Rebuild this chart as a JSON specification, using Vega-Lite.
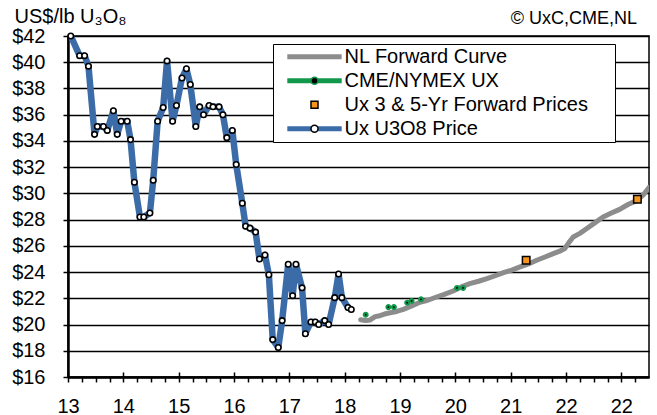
{
  "$schema": "https://vega.github.io/schema/vega-lite/v6.json",
  "width": 581,
  "height": 341,
  "autosize": "none",
  "padding": {"left": 68, "top": 36, "right": 8, "bottom": 38},
  "background": "white",
  "config": {
    "font": "Liberation Sans",
    "view": {"stroke": "black", "strokeWidth": 1.5}
  },
  "title": {"text": "© UxC,CME,NL", "anchor": "end", "frame": "group", "fontSize": 18, "fontWeight": "normal", "color": "black", "baseline": "alphabetic", "offset": 0, "dy": 36, "dx": -12},
  "datasets": {
    "prices": [
      {"series": "Ux U3O8 Price", "year": 2013.05, "price": 42.0},
      {"series": "Ux U3O8 Price", "year": 2013.21, "price": 40.5},
      {"series": "Ux U3O8 Price", "year": 2013.30, "price": 40.5},
      {"series": "Ux U3O8 Price", "year": 2013.37, "price": 39.7},
      {"series": "Ux U3O8 Price", "year": 2013.48, "price": 34.5},
      {"series": "Ux U3O8 Price", "year": 2013.53, "price": 35.1},
      {"series": "Ux U3O8 Price", "year": 2013.64, "price": 35.1},
      {"series": "Ux U3O8 Price", "year": 2013.71, "price": 34.8},
      {"series": "Ux U3O8 Price", "year": 2013.82, "price": 36.3},
      {"series": "Ux U3O8 Price", "year": 2013.89, "price": 34.5},
      {"series": "Ux U3O8 Price", "year": 2013.96, "price": 35.5},
      {"series": "Ux U3O8 Price", "year": 2014.07, "price": 35.5},
      {"series": "Ux U3O8 Price", "year": 2014.13, "price": 34.1},
      {"series": "Ux U3O8 Price", "year": 2014.20, "price": 30.85},
      {"series": "Ux U3O8 Price", "year": 2014.30, "price": 28.2},
      {"series": "Ux U3O8 Price", "year": 2014.37, "price": 28.2},
      {"series": "Ux U3O8 Price", "year": 2014.48, "price": 28.5},
      {"series": "Ux U3O8 Price", "year": 2014.54, "price": 31.0},
      {"series": "Ux U3O8 Price", "year": 2014.62, "price": 35.5},
      {"series": "Ux U3O8 Price", "year": 2014.72, "price": 36.55},
      {"series": "Ux U3O8 Price", "year": 2014.79, "price": 40.1},
      {"series": "Ux U3O8 Price", "year": 2014.89, "price": 35.5},
      {"series": "Ux U3O8 Price", "year": 2014.96, "price": 36.7},
      {"series": "Ux U3O8 Price", "year": 2015.06, "price": 38.8},
      {"series": "Ux U3O8 Price", "year": 2015.14, "price": 39.5},
      {"series": "Ux U3O8 Price", "year": 2015.21, "price": 38.3},
      {"series": "Ux U3O8 Price", "year": 2015.31, "price": 35.1},
      {"series": "Ux U3O8 Price", "year": 2015.38, "price": 36.6},
      {"series": "Ux U3O8 Price", "year": 2015.45, "price": 36.0},
      {"series": "Ux U3O8 Price", "year": 2015.55, "price": 36.7},
      {"series": "Ux U3O8 Price", "year": 2015.62, "price": 36.6},
      {"series": "Ux U3O8 Price", "year": 2015.73, "price": 36.6},
      {"series": "Ux U3O8 Price", "year": 2015.80, "price": 36.0},
      {"series": "Ux U3O8 Price", "year": 2015.87, "price": 34.25},
      {"series": "Ux U3O8 Price", "year": 2015.97, "price": 34.8},
      {"series": "Ux U3O8 Price", "year": 2016.04, "price": 32.2},
      {"series": "Ux U3O8 Price", "year": 2016.15, "price": 29.25},
      {"series": "Ux U3O8 Price", "year": 2016.21, "price": 27.5},
      {"series": "Ux U3O8 Price", "year": 2016.29, "price": 27.35},
      {"series": "Ux U3O8 Price", "year": 2016.39, "price": 27.05},
      {"series": "Ux U3O8 Price", "year": 2016.46, "price": 25.0},
      {"series": "Ux U3O8 Price", "year": 2016.56, "price": 25.3},
      {"series": "Ux U3O8 Price", "year": 2016.63, "price": 23.8},
      {"series": "Ux U3O8 Price", "year": 2016.70, "price": 18.85},
      {"series": "Ux U3O8 Price", "year": 2016.80, "price": 18.25},
      {"series": "Ux U3O8 Price", "year": 2016.87, "price": 20.3},
      {"series": "Ux U3O8 Price", "year": 2016.98, "price": 24.6},
      {"series": "Ux U3O8 Price", "year": 2017.06, "price": 22.2},
      {"series": "Ux U3O8 Price", "year": 2017.12, "price": 24.6},
      {"series": "Ux U3O8 Price", "year": 2017.23, "price": 22.8},
      {"series": "Ux U3O8 Price", "year": 2017.29, "price": 19.3},
      {"series": "Ux U3O8 Price", "year": 2017.39, "price": 20.2},
      {"series": "Ux U3O8 Price", "year": 2017.47, "price": 20.2},
      {"series": "Ux U3O8 Price", "year": 2017.53, "price": 20.0},
      {"series": "Ux U3O8 Price", "year": 2017.64, "price": 20.3},
      {"series": "Ux U3O8 Price", "year": 2017.71, "price": 20.0},
      {"series": "Ux U3O8 Price", "year": 2017.82, "price": 22.05},
      {"series": "Ux U3O8 Price", "year": 2017.89, "price": 23.85},
      {"series": "Ux U3O8 Price", "year": 2017.95, "price": 22.05},
      {"series": "Ux U3O8 Price", "year": 2018.06, "price": 21.3},
      {"series": "Ux U3O8 Price", "year": 2018.12, "price": 21.15},
      {"series": "NL Forward Curve", "year": 2018.29, "price": 20.37},
      {"series": "NL Forward Curve", "year": 2018.38, "price": 20.3},
      {"series": "NL Forward Curve", "year": 2018.46, "price": 20.35},
      {"series": "NL Forward Curve", "year": 2018.55, "price": 20.6},
      {"series": "NL Forward Curve", "year": 2018.61, "price": 20.65},
      {"series": "NL Forward Curve", "year": 2018.72, "price": 20.8},
      {"series": "NL Forward Curve", "year": 2018.82, "price": 20.9},
      {"series": "NL Forward Curve", "year": 2018.94, "price": 21.0},
      {"series": "NL Forward Curve", "year": 2019.06, "price": 21.16},
      {"series": "NL Forward Curve", "year": 2019.2, "price": 21.4},
      {"series": "NL Forward Curve", "year": 2019.36, "price": 21.7},
      {"series": "NL Forward Curve", "year": 2019.5, "price": 21.85},
      {"series": "NL Forward Curve", "year": 2019.66, "price": 22.1},
      {"series": "NL Forward Curve", "year": 2019.8, "price": 22.3},
      {"series": "NL Forward Curve", "year": 2019.96, "price": 22.56},
      {"series": "NL Forward Curve", "year": 2020.1, "price": 22.85},
      {"series": "NL Forward Curve", "year": 2020.26, "price": 23.12},
      {"series": "NL Forward Curve", "year": 2020.42, "price": 23.3},
      {"series": "NL Forward Curve", "year": 2020.57, "price": 23.5},
      {"series": "NL Forward Curve", "year": 2020.72, "price": 23.72},
      {"series": "NL Forward Curve", "year": 2020.87, "price": 23.96},
      {"series": "NL Forward Curve", "year": 2021.02, "price": 24.15},
      {"series": "NL Forward Curve", "year": 2021.17, "price": 24.39},
      {"series": "NL Forward Curve", "year": 2021.32, "price": 24.62},
      {"series": "NL Forward Curve", "year": 2021.47, "price": 24.9},
      {"series": "NL Forward Curve", "year": 2021.62, "price": 25.15},
      {"series": "NL Forward Curve", "year": 2021.77, "price": 25.41},
      {"series": "NL Forward Curve", "year": 2021.9, "price": 25.62},
      {"series": "NL Forward Curve", "year": 2021.98, "price": 25.8},
      {"series": "NL Forward Curve", "year": 2022.06, "price": 26.3},
      {"series": "NL Forward Curve", "year": 2022.13, "price": 26.68},
      {"series": "NL Forward Curve", "year": 2022.25, "price": 26.95},
      {"series": "NL Forward Curve", "year": 2022.37, "price": 27.3},
      {"series": "NL Forward Curve", "year": 2022.52, "price": 27.75},
      {"series": "NL Forward Curve", "year": 2022.67, "price": 28.2},
      {"series": "NL Forward Curve", "year": 2022.82, "price": 28.5},
      {"series": "NL Forward Curve", "year": 2022.97, "price": 28.78},
      {"series": "NL Forward Curve", "year": 2023.12, "price": 29.15},
      {"series": "NL Forward Curve", "year": 2023.28, "price": 29.45},
      {"series": "NL Forward Curve", "year": 2023.4, "price": 29.9},
      {"series": "NL Forward Curve", "year": 2023.5, "price": 30.45},
      {"series": "CME/NYMEX UX", "year": 2018.38, "price": 20.75},
      {"series": "CME/NYMEX UX", "year": 2018.79, "price": 21.33},
      {"series": "CME/NYMEX UX", "year": 2018.89, "price": 21.33},
      {"series": "CME/NYMEX UX", "year": 2019.13, "price": 21.67},
      {"series": "CME/NYMEX UX", "year": 2019.21, "price": 21.8},
      {"series": "CME/NYMEX UX", "year": 2019.38, "price": 21.92},
      {"series": "CME/NYMEX UX", "year": 2020.03, "price": 22.79},
      {"series": "CME/NYMEX UX", "year": 2020.14, "price": 22.79},
      {"series": "Ux 3 & 5-Yr Forward Prices", "year": 2021.28, "price": 24.9},
      {"series": "Ux 3 & 5-Yr Forward Prices", "year": 2023.29, "price": 29.56}
    ]
  },
  "data": {"name": "prices"},
  "resolve": {"axis": {"x": "independent"}},
  "encoding": {
    "x": {"field": "year", "type": "quantitative", "scale": {"domain": [2013, 2023.5], "nice": false, "zero": false},
      "axis": {"orient": "bottom", "values": [2013, 2013.25, 2013.5, 2013.75, 2014, 2014.25, 2014.5, 2014.75, 2015, 2015.25, 2015.5, 2015.75, 2016, 2016.25, 2016.5, 2016.75, 2017, 2017.25, 2017.5, 2017.75, 2018, 2018.25, 2018.5, 2018.75, 2019, 2019.25, 2019.5, 2019.75, 2020, 2020.25, 2020.5, 2020.75, 2021, 2021.25, 2021.5, 2021.75, 2022, 2022.25, 2022.5, 2022.75, 2023, 2023.25], "tickCount": 100,
        "labelExpr": "datum.value % 1 === 0 ? (datum.value === 2023 ? '22' : format(datum.value - 2000, 'd')) : ''",
        "title": null, "grid": false, "domainColor": "black", "domainWidth": 2.5, "tickColor": "black", "tickWidth": 1.5, "tickSize": 5,
        "labelFontSize": 20, "labelColor": "black", "labelPadding": 14, "labelFlush": false, "labelOverlap": false, "labelBound": false, "labelDx": 1}},
    "y": {"field": "price", "type": "quantitative", "scale": {"domain": [16, 42], "nice": false, "zero": false},
      "axis": {"values": [16, 18, 20, 22, 24, 26, 28, 30, 32, 34, 36, 38, 40, 42], "tickCount": 100, "labelExpr": "'$' + datum.value",
        "grid": true, "gridColor": "black", "gridWidth": 1.5, "gridOpacity": 1,
        "domainColor": "black", "domainWidth": 2.5, "tickColor": "black", "tickWidth": 1.5, "tickSize": 5,
        "labelFontSize": 20, "labelColor": "black", "labelPadding": 18, "labelOverlap": false,
        "title": "US$/lb U₃O₈", "titleAngle": 0, "titleAlign": "left", "titleBaseline": "alphabetic", "titleX": -54, "titleY": -14,
        "titleFontSize": 20, "titleFontWeight": "normal", "titleColor": "black", "titleLimit": 300}}
  },
  "layer": [
    {
      "transform": [{"filter": "datum.series === 'NL Forward Curve'"}],
      "mark": {"type": "line", "strokeWidth": 5, "strokeCap": "round", "strokeJoin": "round", "clip": true},
      "encoding": {
        "color": {"field": "series", "type": "nominal",
          "scale": {"domain": ["NL Forward Curve", "CME/NYMEX UX", "Ux 3 & 5-Yr Forward Prices", "Ux U3O8 Price"], "range": ["#8c8c8c", "#11984a", "transparent", "#3c6ca8"]},
          "legend": {"title": " ", "titleOrient": "right", "titlePadding": 26, "orient": "none", "legendX": 205, "legendY": 8, "padding": 1,
            "fillColor": "white", "strokeColor": "black", "symbolType": "stroke", "symbolSize": 2959, "symbolStrokeWidth": 5,
            "symbolOffset": 10.5, "labelOffset": 0, "labelFontSize": 20, "labelColor": "black", "clipHeight": 23.7, "rowPadding": 0, "labelLimit": 400,
            "values": ["NL Forward Curve", "CME/NYMEX UX", "Ux 3 & 5-Yr Forward Prices", "Ux U3O8 Price"]}}
      }
    },
    {
      "transform": [{"filter": "datum.series === 'Ux U3O8 Price'"}],
      "mark": {"type": "line", "strokeWidth": 6.5, "strokeJoin": "round", "strokeCap": "butt"},
      "encoding": {
        "x": {"field": "year", "type": "quantitative",
          "axis": {"orient": "bottom", "values": [2013, 2014, 2015, 2016, 2017, 2018, 2019, 2020, 2021, 2022, 2023], "tickCount": 100, "labels": false, "domain": false, "grid": false, "title": null, "tickSize": -5, "tickWidth": 1.5, "tickColor": "black"}},
        "color": {"field": "series", "type": "nominal"}
      }
    },
    {
      "transform": [{"filter": "datum.series !== 'NL Forward Curve'"}],
      "mark": {"type": "point", "filled": true, "opacity": 1},
      "encoding": {
        "x": {"field": "year", "type": "quantitative", "axis": null},
        "shape": {"field": "series", "type": "nominal",
          "scale": {"domain": ["Ux U3O8 Price", "CME/NYMEX UX", "Ux 3 & 5-Yr Forward Prices", "NL Forward Curve"], "range": ["circle", "circle", "square", "circle"]},
          "legend": {"title": null, "orient": "none", "legendX": 205, "legendY": 8, "padding": 1,
            "symbolSize": 49, "symbolStrokeWidth": 1.5, "symbolOffset": 30.5, "labelOffset": 0, "labelFontSize": 20, "labelOpacity": 0, "labelExpr": "''",
            "clipHeight": 23.7, "rowPadding": 0, "labelLimit": 400,
            "values": ["NL Forward Curve", "CME/NYMEX UX", "Ux 3 & 5-Yr Forward Prices", "Ux U3O8 Price"]}},
        "fill": {"field": "series", "type": "nominal",
          "scale": {"domain": ["Ux U3O8 Price", "CME/NYMEX UX", "Ux 3 & 5-Yr Forward Prices", "NL Forward Curve"], "range": ["white", "black", "#f7941d", "transparent"]}},
        "stroke": {"field": "series", "type": "nominal",
          "scale": {"domain": ["Ux U3O8 Price", "CME/NYMEX UX", "Ux 3 & 5-Yr Forward Prices", "NL Forward Curve"], "range": ["black", "#11984a", "black", "transparent"]}},
        "size": {"field": "series", "type": "ordinal",
          "scale": {"type": "ordinal", "domain": ["NL Forward Curve", "Ux U3O8 Price", "CME/NYMEX UX", "Ux 3 & 5-Yr Forward Prices"], "range": [0, 30, 15, 56]}, "legend": null},
        "strokeWidth": {"field": "series", "type": "ordinal",
          "scale": {"type": "ordinal", "domain": ["NL Forward Curve", "Ux U3O8 Price", "CME/NYMEX UX", "Ux 3 & 5-Yr Forward Prices"], "range": [0, 1.6, 2.1, 1.5]}, "legend": null}
      }
    }
  ]
}
